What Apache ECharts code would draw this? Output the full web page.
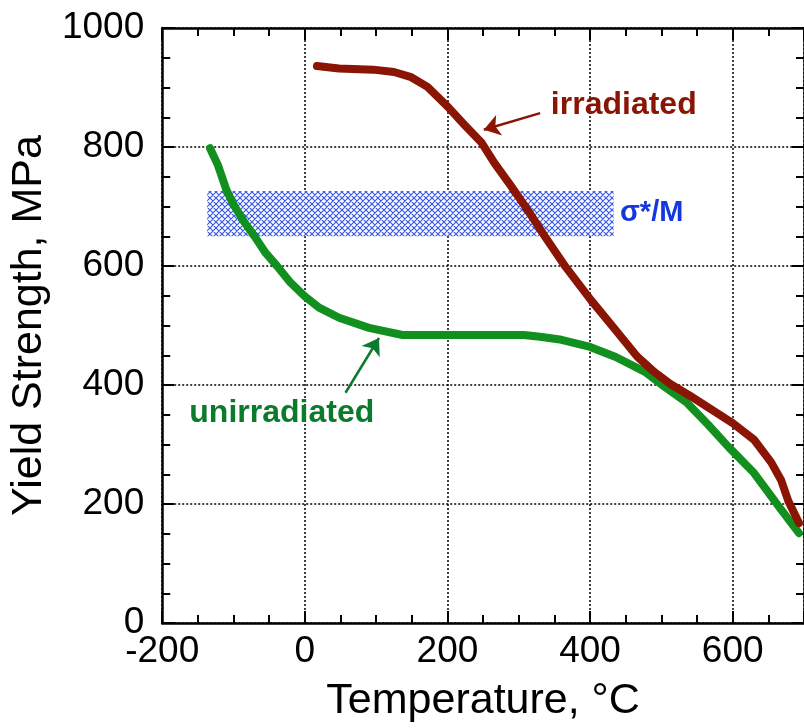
<!DOCTYPE html>
<html>
<head>
<meta charset="utf-8">
<script src="https://cdn.jsdelivr.net/npm/echarts@6/dist/echarts.min.js"></script>
<style>
  html, body { margin: 0; padding: 0; background: #fff; }
  #chart { width: 804px; height: 728px; }
</style>
</head>
<body>
<div id="chart"></div>
<script>
// Yield strength vs. temperature, irradiated and unirradiated material
const tempRange = [-200, 700];
const stressRange = [0, 1000];

const irradiatedTemp   = [17, 48, 96, 125, 148, 172, 201, 224, 248, 266, 290, 312, 337, 366, 401, 436, 466, 490, 512, 540, 565, 600, 630, 654, 668, 678, 693];
const irradiatedStress = [936, 932, 930, 926, 918, 901, 867, 837, 807, 773, 733, 695, 649, 598, 543, 492, 448, 422, 402, 382, 363, 336, 308, 270, 240, 205, 168];

const unirradiatedTemp   = [-133, -122, -110, -100, -85, -70, -55, -39, -20, 0, 20, 48, 90, 137, 200, 307, 330, 360, 400, 436, 477, 500, 536, 565, 594, 630, 665, 693];
const unirradiatedStress = [798, 770, 728, 703, 674, 649, 622, 600, 572, 549, 530, 513, 496, 484, 484, 484, 481, 476, 464, 447, 422, 401, 370, 334, 296, 252, 195, 151];

// σ*/M band
const bandTemp = [-137, 433];
const bandStress = [650, 726];

const irradiatedName = 'irradiated';
const unirradiatedName = 'unirradiated';
const bandName = 'σ*/M';
const xTitle = 'Temperature, °C';
const yTitle = 'Yield Strength, MPa';

const RED = '#8a1505';
const GREEN = '#12901f';
const GREEN_TEXT = '#0b7a2c';
const BLUE = '#1437e0';
const FONT = '"Liberation Sans", Arial, Helvetica, sans-serif';

function pairs(xs, ys) { return xs.map((x, i) => [x, ys[i]]); }

// cross-hatch tile for the band
function hatchTile() {
  const n = 6;
  const c = document.createElement('canvas');
  c.width = n; c.height = n;
  const g = c.getContext('2d');
  g.fillStyle = '#ffffff';
  g.fillRect(0, 0, n, n);
  g.strokeStyle = '#3a58e6';
  g.lineWidth = 1.2;
  g.beginPath();
  for (let k = -n; k <= n; k += n) {
    g.moveTo(k, 0); g.lineTo(k + n, n);
    g.moveTo(k + n, 0); g.lineTo(k, n);
  }
  g.stroke();
  return c;
}

const chart = echarts.init(document.getElementById('chart'), null, { renderer: 'canvas' });

const gridLine = { show: true, lineStyle: { color: '#000', width: 1.5, type: [2, 2] } };
const frameLine = { show: true, onZero: false, lineStyle: { color: '#000', width: 2.5 } };
const majorTick = { show: true, inside: true, length: 12, lineStyle: { color: '#000', width: 2 } };
const minorTick = { show: true, splitNumber: 4, length: 8, lineStyle: { color: '#000', width: 2 } };

const tickLabel = { color: '#000', fontSize: 37, fontFamily: FONT, formatter: v => String(v) };

chart.setOption({
  animation: false,
  backgroundColor: '#fff',
  grid: { left: 160, top: 28, width: 648, height: 595 },
  xAxis: [
    {
      type: 'value', min: tempRange[0], max: tempRange[1], interval: 200,
      position: 'bottom',
      axisLine: frameLine, axisTick: majorTick, minorTick: minorTick,
      splitLine: gridLine,
      axisLabel: Object.assign({ margin: 10, showMaxLabel: false }, tickLabel),
      name: xTitle, nameLocation: 'middle', nameGap: 57,
      nameTextStyle: { color: '#000', fontSize: 43, fontFamily: FONT }
    },
    {
      type: 'value', min: tempRange[0], max: tempRange[1], interval: 200,
      position: 'top',
      axisLine: frameLine, axisTick: majorTick, minorTick: minorTick,
      splitLine: { show: false },
      axisLabel: { show: false }
    }
  ],
  yAxis: [
    {
      type: 'value', min: stressRange[0], max: stressRange[1], interval: 200,
      position: 'left',
      axisLine: frameLine, axisTick: majorTick, minorTick: minorTick,
      splitLine: gridLine,
      axisLabel: Object.assign({ margin: 18 }, tickLabel),
      name: yTitle, nameLocation: 'middle', nameGap: 94, nameRotate: 90,
      nameTextStyle: { color: '#000', fontSize: 43, fontFamily: FONT }
    },
    {
      type: 'value', min: stressRange[0], max: stressRange[1], interval: 200,
      position: 'right',
      axisLine: frameLine, axisTick: majorTick, minorTick: minorTick,
      splitLine: { show: false },
      axisLabel: { show: false }
    }
  ],
  series: [
    {
      name: bandName, type: 'line', data: [], xAxisIndex: 0, yAxisIndex: 0,
      silent: true, z: 1,
      markArea: {
        silent: true,
        itemStyle: { color: { image: hatchTile(), repeat: 'repeat' }, opacity: 1 },
        data: [[{ coord: [bandTemp[0], bandStress[1]] }, { coord: [bandTemp[1], bandStress[0]] }]]
      }
    },
    {
      name: unirradiatedName, type: 'line', xAxisIndex: 0, yAxisIndex: 0,
      data: pairs(unirradiatedTemp, unirradiatedStress),
      symbol: 'none', z: 3,
      lineStyle: { color: GREEN, width: 8, cap: 'round', join: 'round' }
    },
    {
      name: irradiatedName, type: 'line', xAxisIndex: 0, yAxisIndex: 0,
      data: pairs(irradiatedTemp, irradiatedStress),
      symbol: 'none', z: 4,
      lineStyle: { color: RED, width: 8, cap: 'round', join: 'round' }
    },
    {
      type: 'lines', coordinateSystem: 'cartesian2d', xAxisIndex: 0, yAxisIndex: 0,
      symbol: ['none', 'arrow'], symbolSize: [10, 16], z: 5, silent: true,
      data: [
        { coords: [[330, 857], [251, 829]], lineStyle: { color: RED, width: 2.5, opacity: 1 } },
        { coords: [[57, 387], [104, 479]], lineStyle: { color: GREEN_TEXT, width: 2.5, opacity: 1 } }
      ]
    }
  ]
});

// curve and band labels, anchored in data coordinates
const labelSpecs = [
  { text: irradiatedName, at: [345, 870], color: RED, size: 32 },
  { text: unirradiatedName, at: [-162, 353], color: GREEN_TEXT, size: 32 },
  { text: bandName, at: [442, 689], color: BLUE, size: 29 }
];
chart.setOption({
  graphic: labelSpecs.map(s => {
    const p = chart.convertToPixel({ gridIndex: 0 }, s.at);
    return {
      type: 'text', x: p[0], y: p[1], z: 10,
      style: {
        text: s.text, fill: s.color, font: 'bold ' + s.size + 'px ' + FONT,
        textAlign: 'left', textVerticalAlign: 'middle'
      }
    };
  })
});
</script>
</body>
</html>
